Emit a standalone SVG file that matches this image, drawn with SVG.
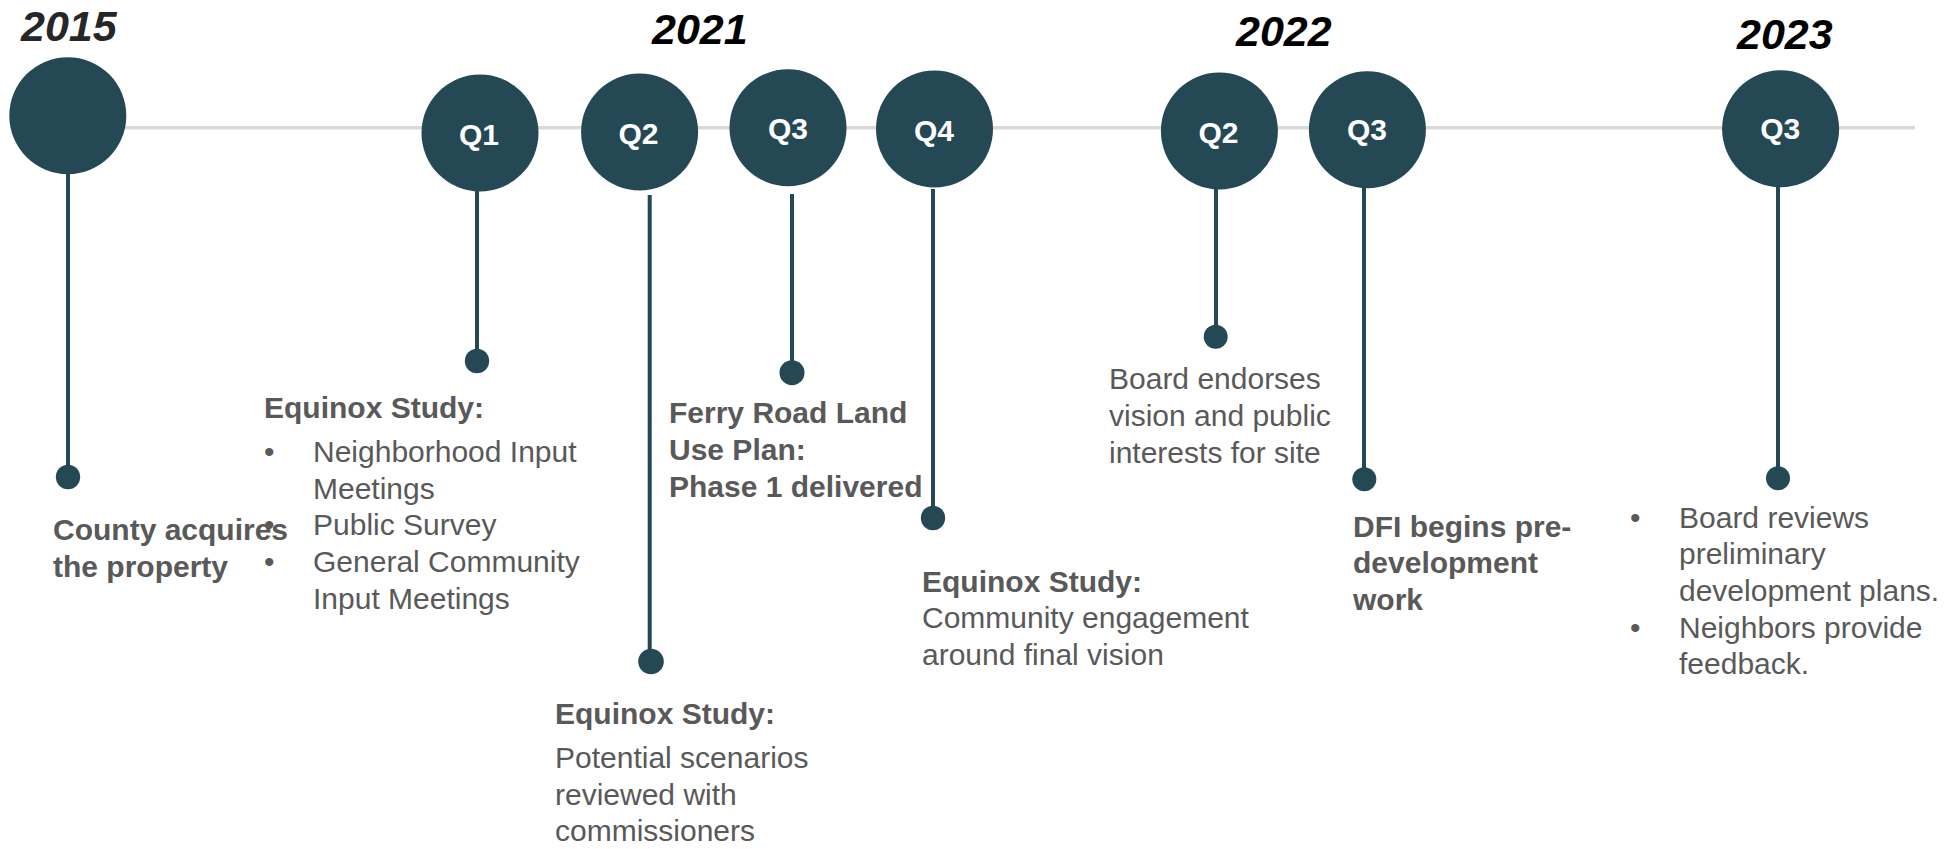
<svg xmlns="http://www.w3.org/2000/svg" width="1946" height="849" viewBox="0 0 1946 849">
<style>
.bg{fill:#ffffff}
.axis{stroke:#d9d9d9;stroke-width:3.5;fill:none}
.stem{stroke:#254855;stroke-width:4;fill:none}
.circ{fill:#254855}
.dot{fill:#254855}
.q{font-family:"Liberation Sans",Arial,sans-serif;font-weight:bold;font-size:30px;fill:#ffffff;text-anchor:middle}
.yr{font-family:"Liberation Sans",Arial,sans-serif;font-weight:bold;font-style:italic;font-size:43px;fill:#000000}
.h{font-family:"Liberation Sans",Arial,sans-serif;font-weight:bold;font-size:30px;fill:#595959}
.t{font-family:"Liberation Sans",Arial,sans-serif;font-size:30px;fill:#595959}
</style>
<rect class="bg" x="0" y="0" width="1946" height="849"/>

<g id="years">
<text class="yr" x="21" y="41" fill="#262626" style="fill:#262626">2015</text>
<text class="yr" x="652" y="44">2021</text>
<text class="yr" x="1236" y="46">2022</text>
<text class="yr" x="1737" y="49">2023</text>
</g>

<g id="connectors">
<line class="axis" x1="68" y1="127.7" x2="1915" y2="127.7"/>
<line class="stem" x1="68" y1="170" x2="68" y2="477"/>
<line class="stem" x1="477" y1="188" x2="477" y2="361"/>
<line class="stem" x1="649.7" y1="195" x2="649.7" y2="661"/>
<line class="stem" x1="792" y1="194" x2="792" y2="373"/>
<line class="stem" x1="933" y1="189" x2="933" y2="518"/>
<line class="stem" x1="1216" y1="188" x2="1216" y2="337"/>
<line class="stem" x1="1364" y1="186" x2="1364" y2="479"/>
<line class="stem" x1="1778" y1="185" x2="1778" y2="478"/>
</g>

<g id="n2015">
<circle class="circ" cx="67.8" cy="115.7" r="58.5"/>
<circle class="dot" cx="68" cy="477" r="12.2"/>
<text class="h" x="53" y="540">County acquires</text>
<text class="h" x="53" y="577">the property</text>
</g>

<g id="n2021q1">
<circle class="circ" cx="480" cy="133" r="58.5"/>
<text class="q" x="479" y="145">Q1</text>
<circle class="dot" cx="477" cy="361" r="12.2"/>
<text class="h" x="264" y="418">Equinox Study:</text>
<text class="t" x="264" y="462">•</text>
<text class="t" x="313" y="462">Neighborhood Input</text>
<text class="t" x="313" y="498.7">Meetings</text>
<text class="t" x="264" y="535.4">•</text>
<text class="t" x="313" y="535.4">Public Survey</text>
<text class="t" x="264" y="572">•</text>
<text class="t" x="313" y="572">General Community</text>
<text class="t" x="313" y="608.7">Input Meetings</text>
</g>

<g id="n2021q2">
<circle class="circ" cx="639.6" cy="132" r="58.5"/>
<text class="q" x="638.5" y="144">Q2</text>
<circle class="dot" cx="651" cy="661.5" r="12.8"/>
<text class="h" x="555" y="724">Equinox Study:</text>
<text class="t" x="555" y="768">Potential scenarios</text>
<text class="t" x="555" y="804.5">reviewed with</text>
<text class="t" x="555" y="841">commissioners</text>
</g>

<g id="n2021q3">
<circle class="circ" cx="788" cy="127.7" r="58.5"/>
<text class="q" x="788" y="138.5">Q3</text>
<circle class="dot" cx="792" cy="372.7" r="12.5"/>
<text class="h" x="669" y="423.3">Ferry Road Land</text>
<text class="h" x="669" y="460">Use Plan:</text>
<text class="h" x="669" y="496.7">Phase 1 delivered</text>
</g>

<g id="n2021q4">
<circle class="circ" cx="934.5" cy="129" r="58.5"/>
<text class="q" x="934" y="141">Q4</text>
<circle class="dot" cx="933" cy="518" r="12.2"/>
<text class="h" x="922" y="591.7">Equinox Study:</text>
<text class="t" x="922" y="628.3">Community engagement</text>
<text class="t" x="922" y="665">around final vision</text>
</g>

<g id="n2022q2">
<circle class="circ" cx="1219.4" cy="131" r="58.5"/>
<text class="q" x="1218.5" y="143.3">Q2</text>
<circle class="dot" cx="1215.7" cy="336.7" r="12"/>
<text class="t" x="1109" y="389.3">Board endorses</text>
<text class="t" x="1109" y="426">vision and public</text>
<text class="t" x="1109" y="462.5">interests for site</text>
</g>

<g id="n2022q3">
<circle class="circ" cx="1367.4" cy="129.7" r="58.5"/>
<text class="q" x="1367" y="140">Q3</text>
<circle class="dot" cx="1364.3" cy="479.3" r="12"/>
<text class="h" x="1353" y="536.7">DFI begins pre-</text>
<text class="h" x="1353" y="573.3">development</text>
<text class="h" x="1353" y="610">work</text>
</g>

<g id="n2023q3">
<circle class="circ" cx="1780.6" cy="128.8" r="58.5"/>
<text class="q" x="1780.3" y="139.3">Q3</text>
<circle class="dot" cx="1778" cy="478.3" r="12"/>
<text class="t" x="1630" y="527.7">•</text>
<text class="t" x="1679" y="527.7">Board reviews</text>
<text class="t" x="1679" y="564.3">preliminary</text>
<text class="t" x="1679" y="601">development plans.</text>
<text class="t" x="1630" y="637.7">•</text>
<text class="t" x="1679" y="637.7">Neighbors provide</text>
<text class="t" x="1679" y="674.3">feedback.</text>
</g>
</svg>
